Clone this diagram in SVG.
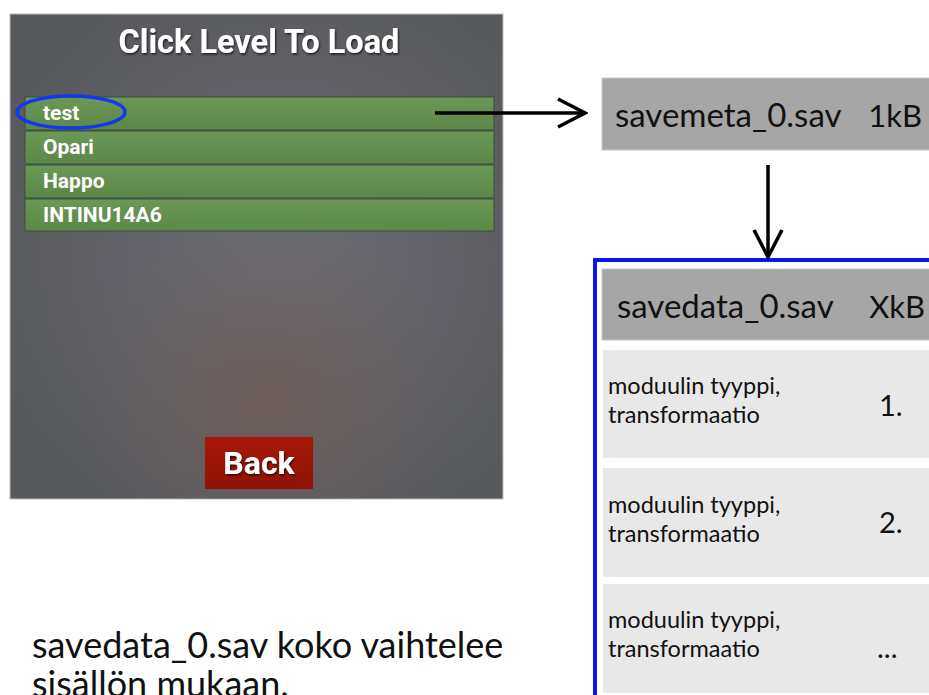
<svg xmlns="http://www.w3.org/2000/svg" width="929" height="695" viewBox="0 0 929 695">
  <defs>
    <radialGradient id="panelGlow" cx="0.55" cy="0.5" r="0.62">
      <stop offset="0" stop-color="#6c6c73"/>
      <stop offset="1" stop-color="#58595d"/>
    </radialGradient>
    <radialGradient id="warmGlow" cx="0.52" cy="0.8" r="0.36">
      <stop offset="0" stop-color="#6e5d59" stop-opacity="0.9"/>
      <stop offset="1" stop-color="#6e5d59" stop-opacity="0"/>
    </radialGradient>
    <linearGradient id="rowFill" x1="0" y1="0" x2="0" y2="1">
      <stop offset="0" stop-color="#6a9855"/>
      <stop offset="1" stop-color="#5b8848"/>
    </linearGradient>
    <linearGradient id="backFill" x1="0" y1="0" x2="0" y2="1">
      <stop offset="0" stop-color="#a81808"/>
      <stop offset="1" stop-color="#8e1406"/>
    </linearGradient>
    <filter id="shadow" x="-10%" y="-30%" width="120%" height="160%">
      <feDropShadow dx="1" dy="1.5" stdDeviation="1" flood-color="#000" flood-opacity="0.7"/>
    </filter>
    <marker id="openHead" viewBox="0 0 32 32" refX="29" refY="16" markerWidth="32" markerHeight="32" markerUnits="userSpaceOnUse" orient="auto">
      <path d="M2 2 L29 16 L2 30" fill="none" stroke="#000" stroke-width="3.5"/>
    </marker>
    <style>
      .ui { font-family: Roboto, "Liberation Sans", sans-serif; font-weight: bold; fill: #fff; }
      .row { fill: url(#rowFill); stroke: #3f4c3c; stroke-width: 1; }
      .doc { font-family: Lato, "Open Sans", "Liberation Sans", sans-serif; fill: #111; }
      .head { fill: #a6a6a6; stroke: #c8c8c8; stroke-width: 1; }
      .cell { fill: #e8e8e8; }
      .wire { stroke: #000; stroke-width: 3.5; fill: none; }
      .item { font-size: 23.5px; }
      .num { font-size: 29px; }
      .title { font-size: 33px; }
      .note { font-size: 36px; }
    </style>
  </defs>

  <rect width="929" height="695" fill="#fff"/>

  <!-- app screen: level picker -->
  <g id="level-screen">
    <rect x="10" y="14" width="493" height="485" fill="url(#panelGlow)" stroke="#bdbdbd" stroke-width="1"/>
    <rect x="10" y="14" width="493" height="485" fill="url(#warmGlow)"/>
    <text class="ui" x="259" y="53" font-size="32.5" text-anchor="middle" filter="url(#shadow)">Click Level To Load</text>
  </g>

  <g id="row-test">
    <rect class="row" x="25" y="97" width="469" height="33"/>
    <text class="ui" x="43" y="120" font-size="21">test</text>
  </g>
  <g id="row-opari">
    <rect class="row" x="25" y="131" width="469" height="33"/>
    <text class="ui" x="43" y="154" font-size="21">Opari</text>
  </g>
  <g id="row-happo">
    <rect class="row" x="25" y="165" width="469" height="33"/>
    <text class="ui" x="43" y="188" font-size="21">Happo</text>
  </g>
  <g id="row-intinu">
    <rect class="row" x="25" y="199" width="469" height="32"/>
    <text class="ui" x="43" y="222" font-size="21">INTINU14A6</text>
  </g>

  <g id="highlight">
    <ellipse cx="71" cy="112" rx="54" ry="16" fill="none" stroke="#1238f0" stroke-width="3.5"/>
  </g>

  <g id="back-button">
    <rect x="205" y="437" width="108" height="52" fill="url(#backFill)"/>
    <text class="ui" x="259" y="474" font-size="32" text-anchor="middle" filter="url(#shadow)">Back</text>
  </g>

  <!-- save files -->
  <g id="savemeta">
    <rect class="head" x="602" y="78" width="330" height="72"/>
    <text class="doc title" x="615" y="127">savemeta_0.sav</text>
    <text class="doc" x="922" y="127" font-size="31" text-anchor="end">1kB</text>
  </g>

  <g id="savedata">
    <rect x="595" y="260" width="340" height="440" fill="none" stroke="#0a14f5" stroke-width="4"/>
    <rect class="head" x="602" y="269" width="330" height="71"/>
    <text class="doc title" x="617" y="318">savedata_0.sav</text>
    <text class="doc" x="925" y="318" font-size="31" text-anchor="end">XkB</text>
  </g>

  <g id="entry-1">
    <rect class="cell" x="603" y="350" width="330" height="108"/>
    <text class="doc item" x="608" y="394">moduulin tyyppi,</text>
    <text class="doc item" x="608" y="423">transformaatio</text>
    <text class="doc num" x="879" y="416">1.</text>
  </g>
  <g id="entry-2">
    <rect class="cell" x="603" y="468" width="330" height="109"/>
    <text class="doc item" x="608" y="513">moduulin tyyppi,</text>
    <text class="doc item" x="608" y="542">transformaatio</text>
    <text class="doc num" x="879" y="533">2.</text>
  </g>
  <g id="entry-3">
    <rect class="cell" x="603" y="584" width="330" height="109"/>
    <text class="doc item" x="608" y="628">moduulin tyyppi,</text>
    <text class="doc item" x="608" y="657">transformaatio</text>
    <text class="doc num" x="877" y="658">...</text>
  </g>

  <g id="note">
    <text class="doc note" x="32" y="658">savedata_0.sav koko vaihtelee</text>
    <text class="doc note" x="32" y="697">sisällön mukaan.</text>
  </g>

  <g id="connectors">
    <line class="wire" x1="435" y1="113" x2="585" y2="113" marker-end="url(#openHead)"/>
    <line class="wire" x1="768" y1="165" x2="768" y2="257" marker-end="url(#openHead)"/>
  </g>
</svg>
